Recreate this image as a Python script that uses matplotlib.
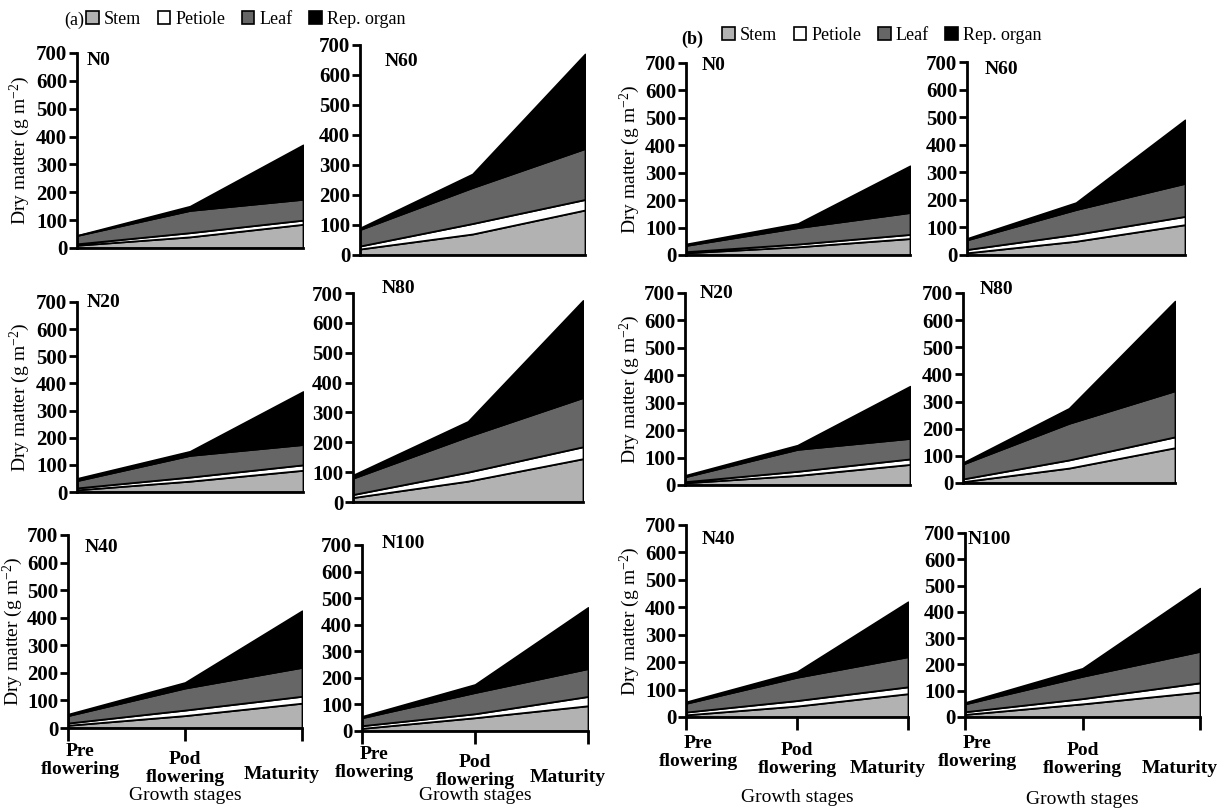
import numpy as np
import matplotlib.pyplot as plt
from matplotlib.patches import Patch
from matplotlib.transforms import offset_copy

plt.rcParams['font.family'] = ['Liberation Serif', 'DejaVu Serif']
plt.rcParams['mathtext.fontset'] = 'custom'
plt.rcParams['mathtext.rm'] = 'Liberation Serif'
plt.rcParams['mathtext.it'] = 'Liberation Serif:italic'
plt.rcParams['mathtext.bf'] = 'Liberation Serif:bold'

# growth stages and nitrogen rates
stages = ["Pre\nflowering", "Pod\nflowering", "Maturity"]
rates = ["N0", "N20", "N40", "N60", "N80", "N100"]
organs = ["Stem", "Petiole", "Leaf", "Rep. organ"]
colors = ["#b2b2b2", "#ffffff", "#666666", "#000000"]

# panel (a): dry matter per organ (g m-2), one row per N rate
stem_a = [[10, 40, 85], [8, 40, 80], [10, 45, 90], [20, 70, 150], [15, 70, 145], [10, 50, 95]]
petiole_a = [[5, 15, 15], [7, 15, 20], [8, 20, 25], [10, 35, 35], [10, 30, 40], [10, 15, 35]]
leaf_a = [[30, 80, 75], [27, 80, 75], [27, 80, 105], [55, 120, 170], [55, 120, 165], [30, 80, 105]]
rep_a = [[0, 15, 195], [8, 15, 195], [5, 20, 205], [5, 45, 315], [10, 50, 325], [5, 30, 230]]

# panel (b)
stem_b = [[8, 30, 60], [8, 35, 75], [8, 40, 85], [8, 50, 110], [5, 55, 130], [10, 50, 95]]
petiole_b = [[4, 10, 15], [4, 15, 20], [10, 20, 25], [12, 25, 30], [10, 30, 40], [10, 20, 35]]
leaf_b = [[23, 60, 80], [18, 80, 75], [32, 85, 110], [35, 90, 120], [55, 135, 170], [30, 85, 120]]
rep_b = [[5, 15, 170], [5, 15, 190], [5, 20, 200], [5, 25, 230], [5, 55, 330], [5, 30, 240]]

W, H = 1219, 809
fig = plt.figure(figsize=(W / 100, H / 100), dpi=100)

# axes boxes in pixels: left, right, top (700), bottom (0)
boxes = {
    'a': [(77, 303, 53, 248), (77, 303, 302, 492), (68, 302, 535, 728),
          (360, 585, 45, 255), (353, 583, 293, 502), (362, 588, 545, 731)],
    'b': [(686, 910, 63, 255), (685, 910, 293, 485), (686, 908, 525, 717),
          (967, 1185, 62, 255), (963, 1175, 293, 483), (965, 1200, 533, 717)],
}
# N-rate tag offset from the top-left corner (px right, px down)
tag_pos = {
    'a': [(10, 8), (10, 1), (17, 12), (25, 16), (29, -5), (20, -2)],
    'b': [(16, 2), (15, 1), (16, 14), (18, 7), (17, -3), (3, 7)],
}
ylabel_right = {'a': [32, 32, 25], 'b': [642, 642, 642]}
stage_drop = {'a': [15, 23, 38], 'b': [18, 25, 43]}
stage_shift = [12, 0, -20]
xlabel_drop = {'a': [67, 67, 67, 64, 64, 64], 'b': [80, 80, 80, 83, 83, 83]}

data = {
    'a': (stem_a, petiole_a, leaf_a, rep_a),
    'b': (stem_b, petiole_b, leaf_b, rep_b),
}

x = np.arange(len(stages))

for panel in ['a', 'b']:
    stem, pet, leaf, rep = data[panel]
    for i, rate in enumerate(rates):
        l, r, t, b = boxes[panel][i]
        ax = fig.add_axes([l / W, 1 - b / H, (r - l) / W, (b - t) / H])
        ax.stackplot(x, stem[i], pet[i], leaf[i], rep[i], colors=colors,
                     edgecolor='black', linewidth=1.3)
        ax.set_xlim(0, 2)
        ax.set_ylim(0, 700)
        ax.set_yticks(range(0, 701, 100))
        ax.spines['top'].set_visible(False)
        ax.spines['right'].set_visible(False)
        ax.spines['left'].set_linewidth(2)
        ax.spines['bottom'].set_linewidth(2)
        ax.tick_params(axis='y', length=6, width=2, pad=1, labelsize=15)
        for lab in ax.get_yticklabels():
            lab.set_fontweight('bold')

        dx, dy = tag_pos[panel][i]
        tr = offset_copy(ax.transAxes, fig=fig, x=dx, y=-dy, units='dots')
        ax.text(0, 1, rate, transform=tr, fontsize=14, fontweight='bold',
                va='center', ha='left')

        if i % 3 == 2:
            ax.set_xticks(x, ['', '', ''])
            ax.tick_params(axis='x', length=9, width=2)
            for k, s in enumerate(stages):
                tr = offset_copy(ax.get_xaxis_transform(), fig=fig,
                                 x=stage_shift[k], y=-stage_drop[panel][k], units='dots')
                ax.text(x[k], 0, s, transform=tr, ha='center', va='top',
                        fontsize=14, fontweight='bold', linespacing=1.05)
            tr = offset_copy(ax.transAxes, fig=fig, x=0,
                             y=-xlabel_drop[panel][i], units='dots')
            ax.text(0.5, 0, "Growth stages", transform=tr, ha='center',
                    va='center', fontsize=14)
        else:
            ax.set_xticks([])

        if i < 3:
            ax.set_ylabel(r"Dry matter (g m$^{-2}$)", fontsize=14)
            ax.yaxis.set_label_coords((ylabel_right[panel][i] - l) / (r - l), 0.5)

handles = [Patch(facecolor=c, edgecolor='black', linewidth=1.2) for c in colors]

fig.text(64 / W, 1 - 20 / H, "(a)", fontsize=13, va='center', ha='left')
fig.legend(handles, organs, loc='center left', bbox_to_anchor=(86 / W, 1 - 19 / H),
           ncol=4, frameon=False, handlelength=0.7, handleheight=0.7,
           handletextpad=0.3, columnspacing=0.9, borderpad=0, borderaxespad=0,
           fontsize=13)

fig.text(681 / W, 1 - 39 / H, "(b)", fontsize=13, fontweight='bold', va='center', ha='left')
fig.legend(handles, organs, loc='center left', bbox_to_anchor=(722 / W, 1 - 35 / H),
           ncol=4, frameon=False, handlelength=0.7, handleheight=0.7,
           handletextpad=0.3, columnspacing=0.9, borderpad=0, borderaxespad=0,
           fontsize=13)

fig.savefig("out.png", dpi=100)
